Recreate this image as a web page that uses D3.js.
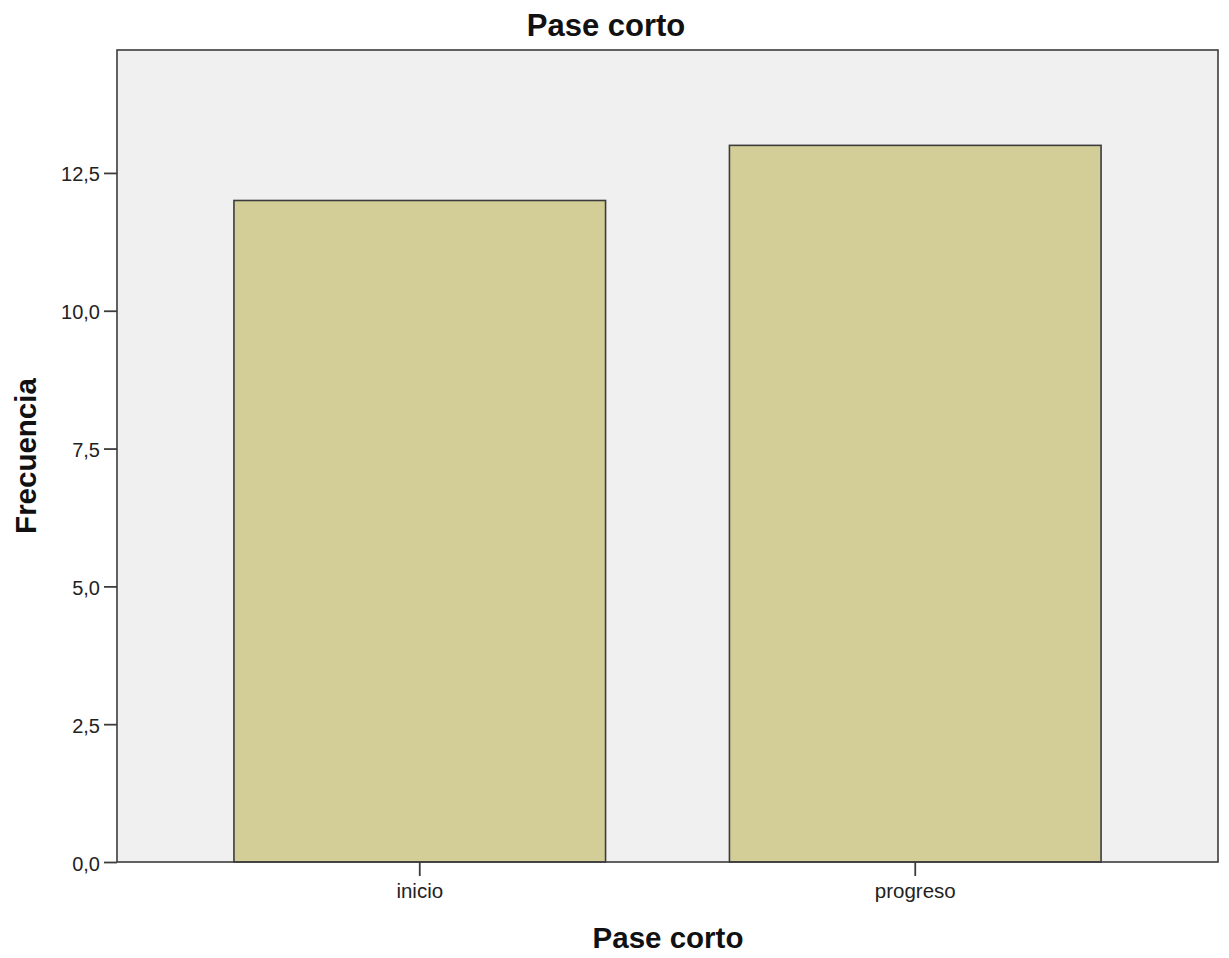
<!DOCTYPE html>
<html><head><meta charset="utf-8">
<script src="https://cdn.jsdelivr.net/npm/d3@7"></script>
<style>body{margin:0;background:#fff}svg{display:block}text{font-family:"Liberation Sans",Arial,sans-serif}</style>
</head><body>
<svg id="c" width="1229" height="958"></svg>
<script>
const categories = ["inicio", "progreso"];
const values = [12, 13];
const yTicks = [0, 2.5, 5, 7.5, 10, 12.5];
const title = "Pase corto";
const xTitle = "Pase corto";
const yTitle = "Frecuencia";

const svg = d3.select("#c");
const L = 117, R = 1218, T = 50, B = 862;
const x = d3.scaleBand().domain(categories).range([L, R]).paddingInner(0.25).paddingOuter(0.236);
const y = d3.scaleLinear().domain([0, 14.73]).range([B, T]);

svg.append("rect").attr("x", L).attr("y", T).attr("width", R - L).attr("height", B - T).attr("fill", "#f0f0f0");

svg.selectAll(".bar").data(values).enter().append("rect")
  .attr("x", (d, i) => x(categories[i]))
  .attr("y", d => y(d))
  .attr("width", x.bandwidth())
  .attr("height", d => B - y(d))
  .attr("fill", "#d3ce97").attr("stroke", "#3c3c3c").attr("stroke-width", 1.6);

svg.append("rect").attr("x", L).attr("y", T).attr("width", R - L).attr("height", B - T)
  .attr("fill", "none").attr("stroke", "#3c3c3c").attr("stroke-width", 1.6);

const fmt = d => d3.format(".1f")(d).replace(".", ",");
const ya = svg.append("g").attr("transform", `translate(${L},0)`)
  .call(d3.axisLeft(y).tickValues(yTicks).tickFormat(fmt).tickSize(13).tickPadding(4));
ya.select(".domain").remove();
ya.selectAll("line").attr("stroke", "#3c3c3c").attr("stroke-width", 1.8);
ya.selectAll("text").attr("font-size", 20).attr("fill", "#222").attr("dy", "0.4em");

const xa = svg.append("g").attr("transform", `translate(0,${B})`)
  .call(d3.axisBottom(x).tickSize(14).tickPadding(7));
xa.select(".domain").remove();
xa.selectAll("line").attr("stroke", "#3c3c3c").attr("stroke-width", 1.8);
xa.selectAll("text").attr("font-size", 20.5).attr("fill", "#222");

svg.append("text").attr("x", 606).attr("y", 36).attr("text-anchor", "middle")
  .attr("font-size", 31).attr("font-weight", "bold").attr("fill", "#111").text(title);
svg.append("text").attr("x", 668).attr("y", 948).attr("text-anchor", "middle")
  .attr("font-size", 29.5).attr("font-weight", "bold").attr("fill", "#111").text(xTitle);
svg.append("text").attr("transform", `translate(36,${(T + B) / 2}) rotate(-90)`).attr("text-anchor", "middle")
  .attr("font-size", 29.5).attr("font-weight", "bold").attr("fill", "#111").text(yTitle);
</script>
</body></html>
